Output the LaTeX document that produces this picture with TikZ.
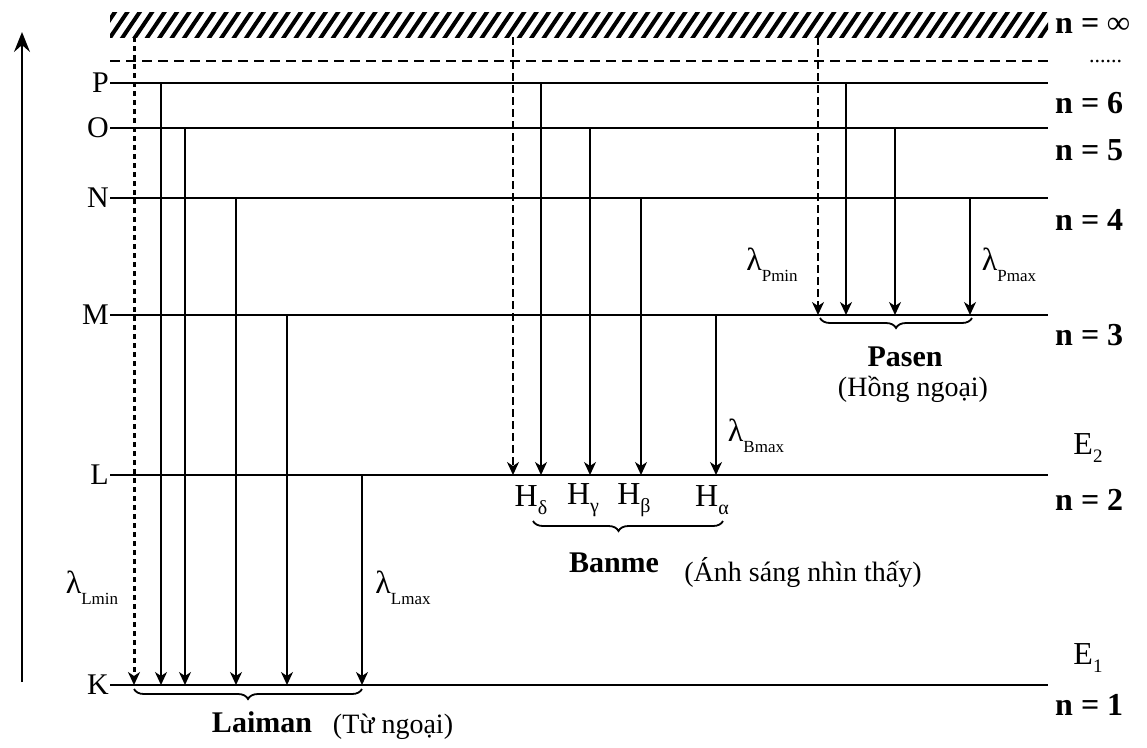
\documentclass[tikz,border=0pt]{standalone}
\usepackage{fontspec}
\setmainfont{Liberation Serif}
\usetikzlibrary{arrows.meta,decorations.pathreplacing}
\newcommand{\lam}[1]{λ\raisebox{-0.75ex}{\fontsize{17}{17}\selectfont #1}}
\newcommand{\Hs}[1]{H\raisebox{-0.5ex}{\fontsize{20}{20}\selectfont #1}}

\begin{document}
\begin{tikzpicture}[x=1pt,y=-1pt,
 level/.style={line width=2.8pt},
 arr/.style={line width=1.8pt,-{Stealth[length=13pt,width=12pt,inset=4pt]}},
 darr/.style={arr,dash pattern=on 8pt off 4pt},
 dotarr/.style={arr,line width=3pt,dash pattern=on 5pt off 4pt},
 lvl/.style={font=\fontsize{30}{30}\selectfont,anchor=east,inner sep=1pt},
 nlab/.style={font=\bfseries\fontsize{32}{32}\selectfont,anchor=west,inner sep=1pt},
 lbl/.style={font=\fontsize{32}{32}\selectfont,inner sep=1pt},
 brc/.style={decorate,decoration={brace,amplitude=10pt,mirror},line width=1.8pt},
 ser/.style={font=\bfseries\fontsize{30}{30}\selectfont,inner sep=1pt},
 note/.style={font=\fontsize{28}{28}\selectfont,inner sep=1pt}]
 \useasboundingbox (0,0) rectangle (1147,747);
 % ionisation limit
 \begin{scope}
  \clip (110,12) rectangle (1048,37);
  \foreach \i in {0,...,80} \draw[line width=4pt,line cap=round] (96+12.4*\i,40) -- (117+12.4*\i,9);
 \end{scope}
 \coordinate (inf) at (110,37);
 \draw[line width=2.2pt,dash pattern=on 10pt off 6pt] (110,61) -- (1048,61);
 % levels
 \coordinate (P) at (110,83);
 \coordinate (O) at (110,128);
 \coordinate (N) at (110,198);
 \coordinate (M) at (110,315);
 \coordinate (L) at (110,475);
 \coordinate (K) at (110,685);
 \foreach \lv in {P,O,N,M,L,K} {
  \draw[level] (\lv) -- ++(938,0);
  \node[lvl] (t\lv) at (\lv) {\lv};
 }
 \draw[line width=2pt,-{Stealth[length=20pt,width=16pt,inset=7pt]}] (22,682) -- (22,32);
 % Laiman
 \draw[dotarr] (134,0 |- inf) -- (134,0 |- K);
 \draw[arr] (161,0 |- P) -- (161,0 |- K);
 \draw[arr] (185,0 |- O) -- (185,0 |- K);
 \draw[arr] (236,0 |- N) -- (236,0 |- K);
 \draw[arr] (287,0 |- M) -- (287,0 |- K);
 \draw[arr] (362,0 |- L) -- (362,0 |- K);
 \node[lbl] (lLmin) at (92,588) {\lam{Lmin}};
 \node[lbl] (lLmax) at (403,588) {\lam{Lmax}};
 \draw[brc] (134,689) -- (362,689);
 \node[ser] (lai) at (262,722) {Laiman};
 \node[note] (laiN) at (393,727) {(Từ ngoại)};
 % Banme
 \draw[darr] (513,0 |- inf) -- (513,0 |- L);
 \draw[arr] (541,0 |- P) -- (541,0 |- L);
 \draw[arr] (590,0 |- O) -- (590,0 |- L);
 \draw[arr] (641,0 |- N) -- (641,0 |- L);
 \draw[arr] (716,0 |- M) -- (716,0 |- L);
 \node[lbl] (lBmax) at (756,436) {\lam{Bmax}};
 \node[lbl] (Hd) at (531,500) {\Hs{δ}};
 \node[lbl] (Hg) at (583,500) {\Hs{γ}};
 \node[lbl] (Hb) at (634,500) {\Hs{β}};
 \node[lbl] (Ha) at (712,500) {\Hs{α}};
 \draw[brc,decoration={aspect=0.45}] (533,521) -- (723,521);
 \node[ser] (ban) at (614,563) {Banme};
 \node[note] (banN) at (803,572) {(Ánh sáng nhìn thấy)};
 % Pasen
 \draw[darr] (818,0 |- inf) -- (818,0 |- M);
 \draw[arr] (846,0 |- P) -- (846,0 |- M);
 \draw[arr] (895,0 |- O) -- (895,0 |- M);
 \draw[arr] (970,0 |- N) -- (970,0 |- M);
 \node[lbl] (lPmin) at (772,265) {\lam{Pmin}};
 \node[lbl] (lPmax) at (1009,265) {\lam{Pmax}};
 \draw[brc] (820,318) -- (972,318);
 \node[ser] (pas) at (905,357) {Pasen};
 \node[note] (pasN) at (913,389) {(Hồng ngoại)};
 % right labels
 \node[nlab] (ninf) at (1054,26) {n = ∞};
 \node[font=\fontsize{22}{22}\selectfont,anchor=west,inner sep=1pt] (ndots) at (1088,62) {......};
 \node[nlab] (n6) at (1054,103) {n = 6};
 \node[nlab] (n5) at (1054,150) {n = 5};
 \node[nlab] (n4) at (1054,220) {n = 4};
 \node[nlab] (n3) at (1054,335) {n = 3};
 \node[lbl] (E2) at (1088,448) {E\raisebox{-0.5ex}{\fontsize{19}{19}\selectfont 2}};
 \node[nlab] (n2) at (1054,500) {n = 2};
 \node[lbl] (E1) at (1088,658) {E\raisebox{-0.5ex}{\fontsize{19}{19}\selectfont 1}};
 \node[nlab] (n1) at (1054,705) {n = 1};
\end{tikzpicture}
\end{document}
